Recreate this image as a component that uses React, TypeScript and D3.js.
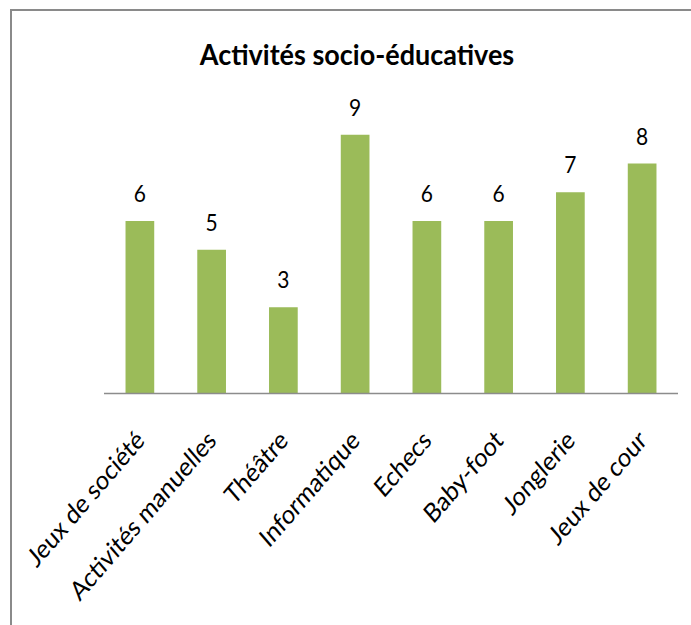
import React from "react";
import * as d3 from "d3";

const categories = [
  "Jeux de société",
  "Activités manuelles",
  "Théâtre",
  "Informatique",
  "Echecs",
  "Baby-foot",
  "Jonglerie",
  "Jeux de cour",
];
const values = [6, 5, 3, 9, 6, 6, 7, 8];
const title = "Activités socio-éducatives";

const W = 691;
const H = 625;
const FONT = "Lato, 'Open Sans', 'Noto Sans', sans-serif";

export default function App() {
  const x = d3.scaleBand<string>().domain(categories).range([104, 678]).paddingInner(0.6).paddingOuter(0.3);
  const y = d3.scaleLinear().domain([0, 10]).range([393.5, 106]);
  const bw = x.bandwidth();

  return (
    <svg
      width={W}
      height={H}
      viewBox={`0 0 ${W} ${H}`}
      style={{ position: "fixed", top: 0, left: 0, background: "#fff" }}
    >
      <rect x={0} y={0} width={W} height={H} fill="#fff" />
      <rect x={11} y={10} width={W + 20} height={H + 20} fill="none" stroke="#8a8a8a" strokeWidth={2} />
      <text
        transform="translate(357,65) scale(1,1.08)"
        textAnchor="middle"
        fontFamily={FONT}
        fontWeight="bold"
        fontSize={27}
        fill="#000"
      >
        {title}
      </text>
      {categories.map((c, i) => (
        <rect
          key={c}
          x={x(c)}
          y={y(values[i])}
          width={bw}
          height={y(0) - y(values[i])}
          fill="#9BBB59"
        />
      ))}
      <line x1={104} x2={678} y1={y(0)} y2={y(0)} stroke="#8c8c8c" strokeWidth={1.5} />
      {categories.map((c, i) => (
        <text
          key={"v" + c}
          transform={`translate(${(x(c) as number) + bw / 2},${y(values[i]) - 19}) scale(1,1.08)`}
          textAnchor="middle"
          fontFamily={FONT}
          fontSize={21}
          fill="#000"
        >
          {values[i]}
        </text>
      ))}
      {categories.map((c) => {
        const cx = (x(c) as number) + bw / 2;
        return (
          <text
            key={"l" + c}
            transform={`translate(${cx + 6},${442}) scale(1,1.16) rotate(-45)`}
            textAnchor="end"
            fontFamily={FONT}
            fontSize={23}
            fill="#000"
          >
            {c}
          </text>
        );
      })}
    </svg>
  );
}
